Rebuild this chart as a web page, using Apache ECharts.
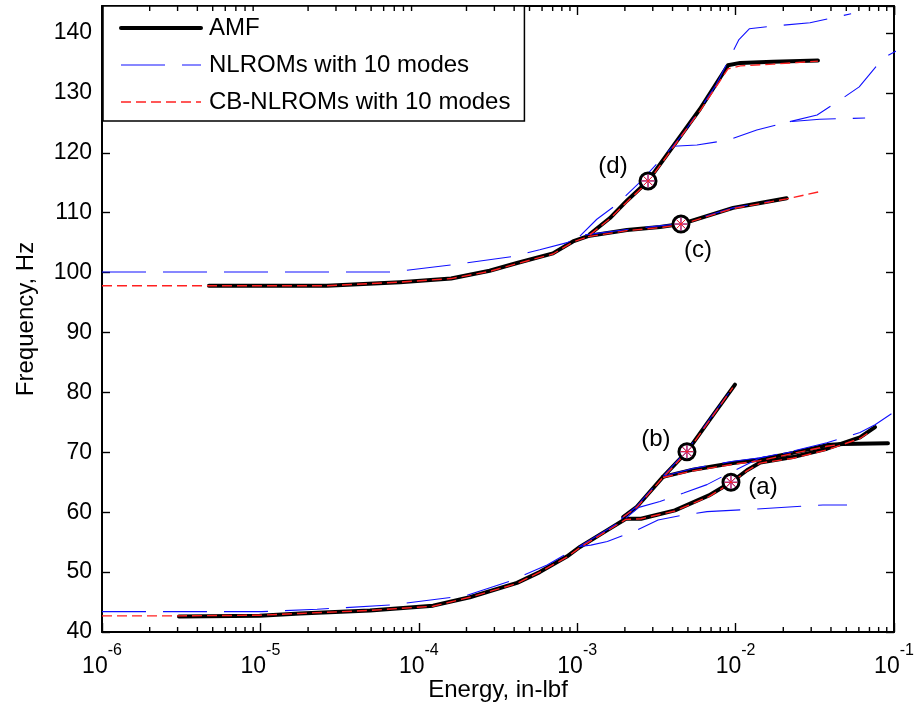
<!DOCTYPE html>
<html>
<head>
<meta charset="utf-8">
<title>Frequency vs energy</title>
<script src="https://cdn.jsdelivr.net/npm/echarts@6/dist/echarts.min.js"></script>
<style>
  html, body { margin: 0; padding: 0; background: #fff; }
  #chart { width: 917px; height: 706px; }
</style>
</head>
<body>
<div id="chart"></div>
<script>
// [energy in-lbf, frequency Hz]
// AMF (black)
const amfM1Main = [[3.06e-6,42.6],[9.9e-6,42.7],[1.78e-5,43.1],[4.92e-5,43.6],[1.23e-4,44.4],[2.1e-4,45.8],[4.17e-4,48.2],[5.8e-4,50.0],[8.6e-4,52.6],[1.04e-3,54.2],[1.55e-3,57.0],[2.03e-3,58.9],[2.53e-3,58.9],[4.14e-3,60.3],[6.79e-3,62.8],[9.35e-3,65.0],[1.18e-2,67.0],[1.43e-2,68.3],[2.3e-2,69.2],[3.77e-2,70.6],[6.1e-2,72.5],[7.59e-2,74.2]];
const amfM1Steep = [[1.95e-3,59.2],[2.38e-3,60.9],[3.48e-3,65.9],[4.93e-3,70.1],[6.89e-3,75.5],[9.91e-3,81.3]];
const amfM1Upper = [[3.48e-3,65.9],[5.38e-3,67.1],[9.64e-3,68.2],[1.43e-2,68.8],[2.3e-2,69.9],[3.77e-2,71.2],[4.76e-2,71.4],[9.16e-2,71.5]];
const amfM2Main = [[4.73e-6,97.8],[2.63e-5,97.8],[7.6e-5,98.4],[1.6e-4,99.0],[2.8e-4,100.3],[4.17e-4,101.6],[7.03e-4,103.2],[9.4e-4,105.2],[1.17e-3,106.1]];
const amfM2Lower = [[1.17e-3,106.1],[2.06e-3,107.1],[3.33e-3,107.6],[4.52e-3,108.1],[9.64e-3,110.8],[1.43e-2,111.6],[2.1e-2,112.4]];
const amfM2Upper = [[1.2e-3,106.4],[1.61e-3,109.1],[2.06e-3,112.0],[2.8e-3,115.3],[4.27e-3,122.0],[5.96e-3,127.3],[8.95e-3,134.6],[1.07e-2,135.0],[1.72e-2,135.2],[3.31e-2,135.4]];

// NLROMs with 10 modes (blue)
const nlM1Main = [[1e-6,43.4],[1.02e-5,43.4],[2.28e-5,43.8],[6.58e-5,44.5],[2.01e-4,46.1],[3.77e-4,48.5],[6.46e-4,51.2],[1.04e-3,54.3],[1.55e-3,57.1],[2.03e-3,59.0]];
const nlM1Lower = [[1.04e-3,54.3],[1.22e-3,54.5],[1.55e-3,55.1],[2.38e-3,57.0],[3.24e-3,58.7],[4.65e-3,59.5],[6.6e-3,60.1],[1.29e-2,60.5],[3.56e-2,61.2],[5.05e-2,61.2]];
const nlM1Steep = [[1.9e-3,58.9],[2.38e-3,61.0],[3.48e-3,66.0],[4.93e-3,70.3],[6.89e-3,75.6],[9.7e-3,81.0]];
const nlM1Mid = [[2.03e-3,59.0],[2.45e-3,60.8],[3.33e-3,61.8],[4.7e-3,63.2],[6.59e-3,64.6],[9.23e-3,66.6],[1.43e-2,69.1],[2.3e-2,70.2],[3.77e-2,71.6],[6.1e-2,73.3],[7.59e-2,74.6],[9.86e-2,76.6]];
const nlM1Upper = [[3.48e-3,66.0],[5.38e-3,67.3],[9.64e-3,68.5],[1.43e-2,69.1],[2.3e-2,70.1]];
const nlM2Main = [[1e-6,100.1],[6.87e-5,100.1],[1.64e-4,101.3],[3.94e-4,102.7],[5.8e-4,103.8],[8.63e-4,105.0],[1.04e-3,106.1]];
const nlM2Steep = [[1.04e-3,106.1],[1.33e-3,108.9],[1.78e-3,111.4],[2.49e-3,115.1],[4.03e-3,121.1],[4.79e-3,123.6],[7.52e-3,131.3],[1.05e-2,138.9],[1.22e-2,140.7],[1.8e-2,141.2],[2.95e-2,141.7],[5.36e-2,143.2]];
const nlM2Lower = [[1.12e-3,106.3],[2.06e-3,107.2],[4.52e-3,108.2],[9.64e-3,110.8],[1.65e-2,111.9]];
const nlM2Flat = [[4.03e-3,121.1],[5.7e-3,121.3],[8.95e-3,122.1],[1.36e-2,123.8],[2.2e-2,125.2],[3.4e-2,125.6],[6.57e-2,125.8]];
const nlM2Rise = [[2.2e-2,125.2],[3.27e-2,126.3],[4.56e-2,128.8],[6.03e-2,131.0],[8.53e-2,135.8],[1.09e-1,137.3]];

// CB-NLROMs with 10 modes (red)
const cbM1Main = [[1e-6,42.7],[3.06e-6,42.7],[9.9e-6,42.8],[1.78e-5,43.1],[4.92e-5,43.6],[1.23e-4,44.3],[2.1e-4,45.8],[4.17e-4,48.1],[5.8e-4,50.0],[8.6e-4,52.5],[1.04e-3,54.1],[1.55e-3,56.9],[2.03e-3,58.8],[2.53e-3,58.9],[4.14e-3,60.2],[6.79e-3,62.6],[9.35e-3,64.9],[1.18e-2,66.9],[1.43e-2,68.2],[2.3e-2,69.0],[3.77e-2,70.4],[6.1e-2,72.3],[7.2e-2,73.6]];
const cbM1Steep = [[1.95e-3,59.2],[2.38e-3,60.8],[3.48e-3,65.8],[4.93e-3,70.0],[6.89e-3,75.4],[9.6e-3,80.8]];
const cbM1Upper = [[3.48e-3,65.8],[5.38e-3,66.9],[9.64e-3,68.0],[1.43e-2,68.6],[2.3e-2,69.8],[3.77e-2,71.0],[4.5e-2,71.3]];
const cbM2Main = [[1e-6,97.8],[4.73e-6,97.8],[2.63e-5,97.8],[7.6e-5,98.4],[1.6e-4,99.0],[2.8e-4,100.2],[4.17e-4,101.5],[7.03e-4,103.1],[9.4e-4,105.1],[1.17e-3,106.0]];
const cbM2Lower = [[1.17e-3,106.0],[2.06e-3,107.0],[3.33e-3,107.5],[4.52e-3,108.0],[9.64e-3,110.7],[1.43e-2,111.5],[2.1e-2,112.3],[3.4e-2,113.5]];
const cbM2Upper = [[1.2e-3,106.3],[1.61e-3,109.0],[2.06e-3,111.8],[2.8e-3,115.1],[4.27e-3,121.8],[5.96e-3,127.0],[8.95e-3,134.0],[1.07e-2,134.5],[1.72e-2,134.8],[3.31e-2,135.3]];

// marked points (a)-(d)
const markNames = ['(a)', '(b)', '(c)', '(d)'];
const markEnergy = [9.35e-3, 4.93e-3, 4.52e-3, 2.8e-3];
const markFreq = [65.0, 70.1, 108.1, 115.3];

// axes
const xMin = 1e-6, xMax = 1e-1;
const yMin = 40, yMax = 144.5, yStep = 10;
const minorMultipliers = [2, 3, 4, 5, 6, 7, 8, 9];
const decades = [1e-6, 1e-5, 1e-4, 1e-3, 1e-2];

const FONT = 'Liberation Sans, Arial, Helvetica, sans-serif';
const labelOffsets = [[32, 5], [-31, -12], [17, 26], [-35, -15]];

const minorTicks = [];
decades.forEach(d => minorMultipliers.forEach(k => minorTicks.push([d * k, yMin])));

const chart = echarts.init(document.getElementById('chart'));

const amfStyle = { color: '#000', width: 4, cap: 'round', join: 'round' };
const nlStyle = { color: '#1010ff', width: 1.1, type: [44, 17] };
const cbStyle = { color: '#ff2020', width: 1.4, type: [10, 5] };

function line(name, data, style, z) {
  return {
    name: name, type: 'line', data: data,
    xAxisIndex: 0, yAxisIndex: 0,
    symbol: 'none', showSymbol: false, silent: true, z: z,
    itemStyle: { color: style.color },
    lineStyle: style
  };
}

const AMF = 'AMF', NL = 'NLROMs with 10 modes', CB = 'CB-NLROMs with 10 modes';
const series = [
  line(AMF, amfM1Main, amfStyle, 2),
  line(AMF, amfM1Steep, amfStyle, 2),
  line(AMF, amfM1Upper, amfStyle, 2),
  line(AMF, amfM2Main, amfStyle, 2),
  line(AMF, amfM2Lower, amfStyle, 2),
  line(AMF, amfM2Upper, amfStyle, 2),
  line(NL, nlM1Main, nlStyle, 3),
  line(NL, nlM1Lower, nlStyle, 3),
  line(NL, nlM1Steep, nlStyle, 3),
  line(NL, nlM1Mid, nlStyle, 3),
  line(NL, nlM1Upper, nlStyle, 3),
  line(NL, nlM2Main, nlStyle, 3),
  line(NL, nlM2Steep, nlStyle, 3),
  line(NL, nlM2Lower, nlStyle, 3),
  line(NL, nlM2Flat, nlStyle, 3),
  line(NL, nlM2Rise, nlStyle, 3),
  line(CB, cbM1Main, cbStyle, 4),
  line(CB, cbM1Steep, cbStyle, 4),
  line(CB, cbM1Upper, cbStyle, 4),
  line(CB, cbM2Main, cbStyle, 4),
  line(CB, cbM2Lower, cbStyle, 4),
  line(CB, cbM2Upper, cbStyle, 4)
];

// circles with labels
series.push({
  type: 'scatter', xAxisIndex: 0, yAxisIndex: 0, z: 5, silent: true,
  symbol: 'circle', symbolSize: 16,
  itemStyle: { color: '#fff', borderColor: '#000', borderWidth: 3, opacity: 1 },
  data: markNames.map((n, i) => ({
    name: n, value: [markEnergy[i], markFreq[i]],
    label: { offset: labelOffsets[i] }
  })),
  label: {
    show: true, position: 'inside', formatter: '{b}',
    color: '#000', fontSize: 24, fontFamily: FONT, textBorderWidth: 0
  }
});
// asterisk markers of the two ROMs
const star = 'path://M5,0L5,10M0,5L10,5M1.5,1.5L8.5,8.5M1.5,8.5L8.5,1.5';
[['#1010ff', 6], ['#ff2020', 7]].forEach(function (s) {
  series.push({
    type: 'scatter', xAxisIndex: 0, yAxisIndex: 0, z: s[1], silent: true,
    symbol: star, symbolSize: 13,
    itemStyle: { color: 'transparent', borderColor: s[0], borderWidth: 1, opacity: 1 },
    data: markEnergy.map((e, i) => [e, markFreq[i]])
  });
});

// minor ticks (2..9 of each decade) along the bottom and top edges
series.push({
  type: 'custom', xAxisIndex: 0, yAxisIndex: 0, z: 10, silent: true, clip: false,
  data: minorTicks,
  renderItem: function (params, api) {
    const b = api.coord([api.value(0), yMin]);
    const t = api.coord([api.value(0), yMax]);
    const st = { stroke: '#000', lineWidth: 1.4 };
    return {
      type: 'group',
      children: [
        { type: 'line', shape: { x1: b[0], y1: b[1], x2: b[0], y2: b[1] - 5 }, style: st },
        { type: 'line', shape: { x1: t[0], y1: t[1], x2: t[0], y2: t[1] + 5 }, style: st }
      ]
    };
  }
});

const axisLine = { show: true, onZero: false, lineStyle: { color: '#000', width: 2 } };
const tickStyle = { color: '#000', width: 1.4 };

chart.setOption({
  animation: false,
  backgroundColor: '#fff',
  grid: { left: 102, right: 23, top: 6, bottom: 74, outerBoundsMode: 'none', containLabel: false },
  legend: {
    data: [AMF, NL, CB],
    orient: 'vertical', left: 103, top: 6,
    itemWidth: 80, itemHeight: 24, itemGap: 13,
    padding: [10, 14, 7, 16],
    backgroundColor: '#fff', borderColor: '#000', borderWidth: 1.5, borderRadius: 0,
    selectedMode: false,
    itemStyle: { opacity: 0 },
    lineStyle: { width: 'inherit', type: 'inherit', color: 'inherit' },
    textStyle: { color: '#000', fontSize: 24, fontFamily: FONT, padding: [0, 0, 0, 3] }
  },
  xAxis: [
    {
      type: 'log', logBase: 10, min: xMin, max: xMax, position: 'bottom',
      name: 'Energy, in-lbf', nameLocation: 'middle', nameGap: 46, nameMoveOverlap: false,
      nameTextStyle: { color: '#000', fontSize: 24, fontFamily: FONT },
      axisLine: axisLine,
      axisTick: { inside: true, length: 9, lineStyle: tickStyle },
      splitLine: { show: false },
      axisLabel: {
        margin: 11, color: '#000',
        formatter: v => '{b|10}{s|' + Math.round(Math.log10(v)) + '}',
        rich: {
          b: { fontSize: 23, fontFamily: FONT, color: '#000', lineHeight: 35, verticalAlign: 'bottom' },
          s: { fontSize: 16, fontFamily: FONT, color: '#000', lineHeight: 15, verticalAlign: 'top' }
        }
      }
    },
    {
      type: 'log', logBase: 10, min: xMin, max: xMax, position: 'top',
      axisLine: axisLine,
      axisTick: { inside: true, length: 9, lineStyle: tickStyle },
      axisLabel: { show: false }, splitLine: { show: false }
    }
  ],
  yAxis: [
    {
      type: 'value', min: yMin, max: yMax, interval: yStep, position: 'left',
      name: 'Frequency, Hz', nameLocation: 'middle', nameGap: 64, nameRotate: 90, nameMoveOverlap: false,
      nameTextStyle: { color: '#000', fontSize: 24, fontFamily: FONT },
      axisLine: axisLine,
      axisTick: { inside: true, length: 8, lineStyle: tickStyle },
      splitLine: { show: false },
      axisLabel: { margin: 10, color: '#000', fontSize: 23, fontFamily: FONT, showMaxLabel: false }
    },
    {
      type: 'value', min: yMin, max: yMax, interval: yStep, position: 'right',
      axisLine: axisLine,
      axisTick: { inside: true, length: 8, lineStyle: tickStyle },
      axisLabel: { show: false }, splitLine: { show: false }
    }
  ],
  series: series
});
</script>
</body>
</html>
